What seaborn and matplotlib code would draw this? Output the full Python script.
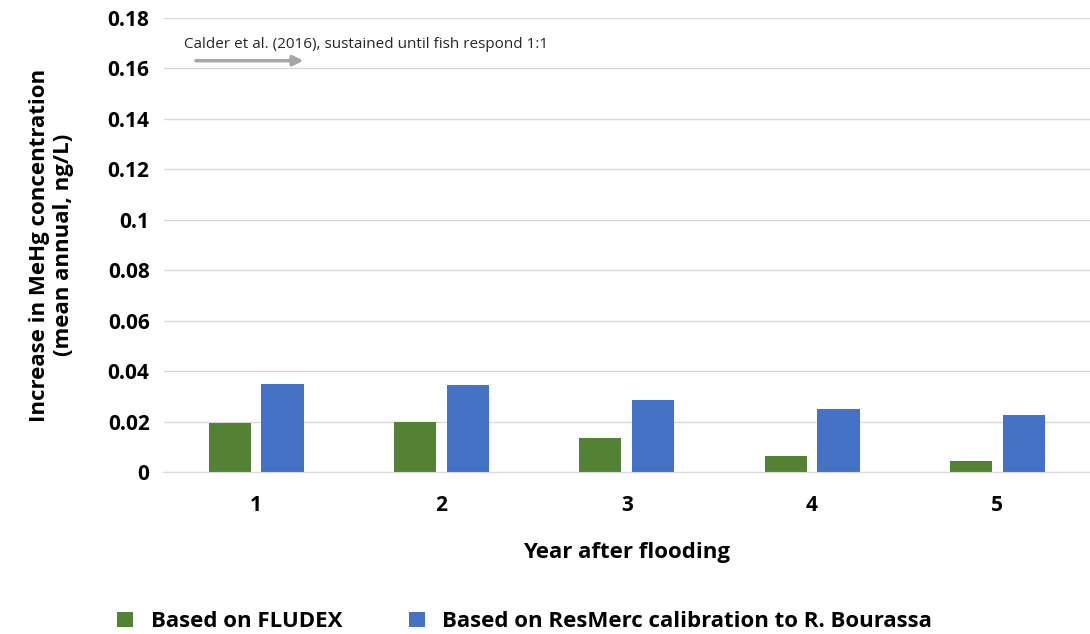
import pandas as pd
import matplotlib.pyplot as plt
import seaborn as sns

years = ['1', '2', '3', '4', '5']
fludex = [0.0195, 0.0201, 0.0137, 0.0065, 0.0045]
resmerc = [0.0350, 0.0345, 0.0287, 0.0251, 0.0226]
series = ['Based on FLUDEX', 'Based on ResMerc calibration to R. Bourassa']

df = pd.DataFrame({
    'year': years * 2,
    'value': fludex + resmerc,
    'series': [series[0]] * 5 + [series[1]] * 5,
})

sns.set_style('white')
plt.rcParams['font.family'] = ['Open Sans', 'DejaVu Sans']
plt.rcParams['text.color'] = 'black'

fig = plt.figure(figsize=(10.9, 6.34), dpi=100)
ax = fig.add_axes([0.15, 0.255, 0.85, 0.717])
sns.barplot(data=df, x='year', y='value', hue='series', saturation=1,
            palette=['#548235', '#4472C4'], width=0.57, gap=0.2, linewidth=0, ax=ax)

ax.set_ylim(0, 0.18)
ax.set_xlim(-0.5, 4.5)
ax.set_yticks([0, 0.02, 0.04, 0.06, 0.08, 0.1, 0.12, 0.14, 0.16, 0.18])
ax.set_yticklabels(['0', '0.02', '0.04', '0.06', '0.08', '0.1', '0.12', '0.14', '0.16', '0.18'])
ax.grid(axis='y', color='#d9d9d9', linewidth=1)
ax.set_axisbelow(True)
for s in ['top', 'right', 'left']:
    ax.spines[s].set_visible(False)
ax.spines['bottom'].set_color('#d9d9d9')
ax.tick_params(axis='y', length=0, labelsize=15, pad=10, labelcolor='black')
ax.tick_params(axis='x', length=0, labelsize=15, pad=16, labelcolor='black')
for t in ax.get_xticklabels() + ax.get_yticklabels():
    t.set_fontweight('bold')

ax.set_xlabel('Year after flooding', fontsize=16, fontweight='bold', labelpad=19, color='black')
ax.set_ylabel('Increase in MeHg concentration\n(mean annual, ng/L)', fontsize=16,
              fontweight='bold', labelpad=24, color='black')

ax.annotate('', xy=(0.27, 0.163), xytext=(-0.34, 0.163),
            arrowprops=dict(arrowstyle='-|>', color='#a6a6a6', lw=2.5, mutation_scale=15))
ax.text(-0.39, 0.1695, 'Calder et al. (2016), sustained until fish respond 1:1',
        fontsize=11, va='center', color='#262626')

ax.legend(loc='upper center', bbox_to_anchor=(0.39, -0.262), ncol=2, frameon=False,
          prop={'size': 16, 'weight': 'bold'}, handlelength=0.7, handleheight=0.7,
          columnspacing=3, title=None)

fig.savefig('out.png', dpi=100)
